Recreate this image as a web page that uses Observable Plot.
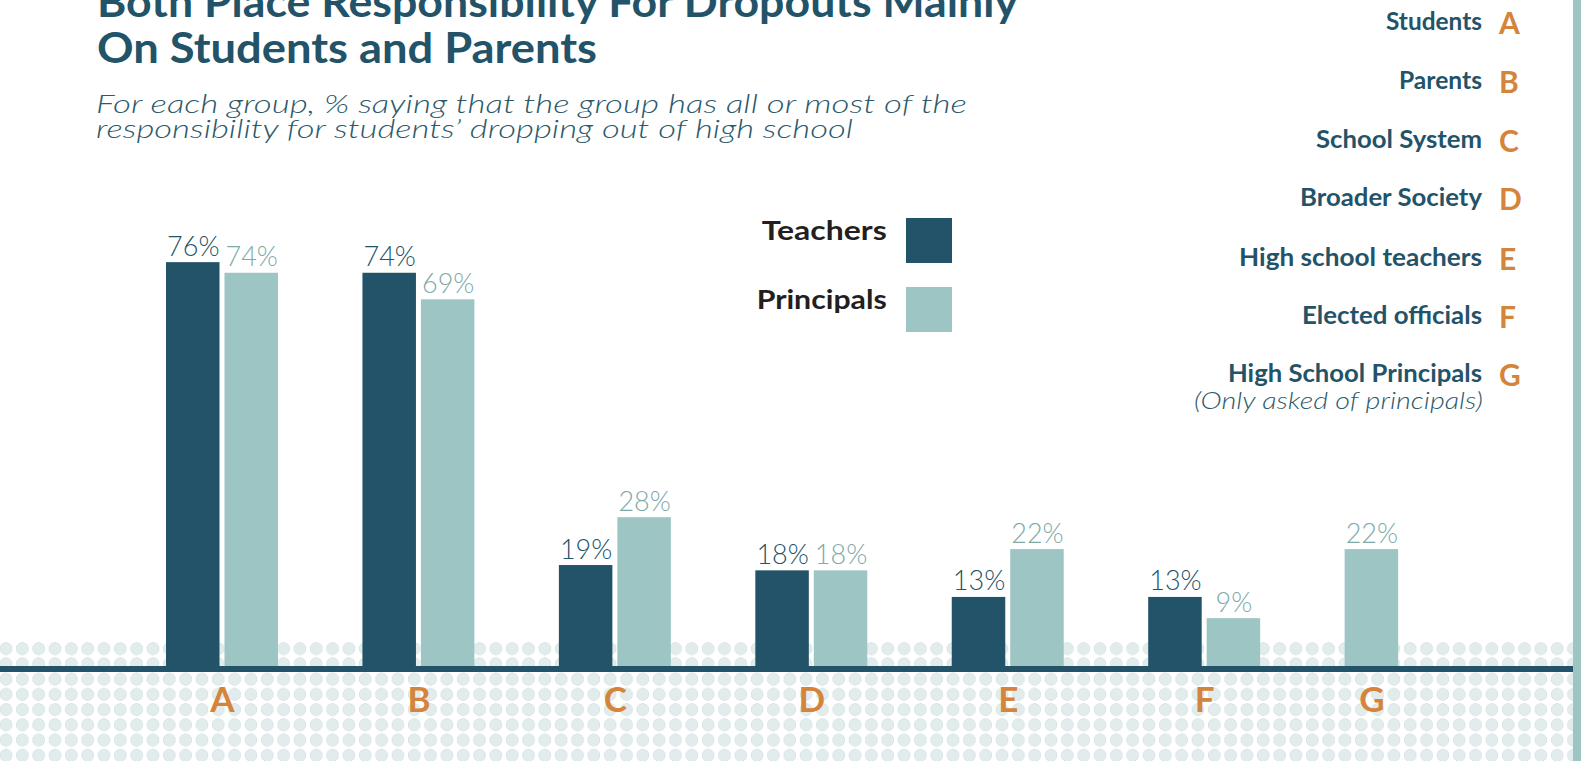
<!DOCTYPE html>
<html>
<head>
<meta charset="utf-8">
<script src="https://cdn.jsdelivr.net/npm/d3@7"></script>
<script src="https://cdn.jsdelivr.net/npm/@observablehq/plot@0.6"></script>
<style>
  html, body { margin: 0; padding: 0; background: #fff; overflow: hidden; }
  #page { position: relative; width: 1581px; height: 761px; overflow: hidden; background: #fff; }
  .layer { position: absolute; left: 0; top: 0; }
  #dots {
    position: absolute; left: 0; top: 640.7px; width: 1573px; height: 121px;
    background-image: radial-gradient(circle, #e3ecec 0, #e3ecec 5.4px, #d9e5e5 5.6px, #d9e5e5 6.2px, rgba(255,255,255,0) 6.6px);
    background-size: 16.33px 15.24px;
    background-position: -2.17px 0;
  }
  #baseline { position: absolute; left: 0; top: 666px; width: 1573px; height: 6px; background: #235368; }
  #edge { position: absolute; left: 1573px; top: 0; width: 8px; height: 761px; background: #9dc5c4; }
</style>
</head>
<body>
<div id="page">
  <div id="dots"></div>
  <div id="chart" class="layer"></div>
  <div id="baseline"></div>
  <div id="edge"></div>
  <svg id="notes" class="layer" width="1581" height="761"></svg>
</div>
<script>
// ---- data ----
const categories = ["A", "B", "C", "D", "E", "F", "G"];
const categoryNames = ["Students", "Parents", "School System", "Broader Society", "High school teachers", "Elected officials", "High School Principals"];
const series = ["Teachers", "Principals"];
const teachers = [76, 74, 19, 18, 13, 13, null];
const principals = [74, 69, 28, 18, 22, 9, 22];
const titleLines = ["Both Place Responsibility For Dropouts Mainly", "On Students and Parents"];
const subtitleLines = ["For each group, % saying that the group has all or most of the", "responsibility for students\u2019 dropping out of high school"];
const footnote = "(Only asked of principals)";

// ---- styles ----
const barColor = {Teachers: "#235368", Principals: "#9dc5c4"};
const labelColor = {Teachers: "#235368", Principals: "#7eaaaa"};
const orange = "#d4843b";
const font = "Lato, 'Open Sans', sans-serif";

// ---- table built from the arrays ----
const rows = [];
categories.forEach((c, i) => {
  let slot = 0;
  [["Teachers", teachers[i]], ["Principals", principals[i]]].forEach(([s, v]) => {
    if (v != null) rows.push({category: c, series: s, value: v, slot: slot++});
  });
});
const pairCats = categories.filter(c => rows.filter(r => r.category === c).length > 1);
const singleCats = categories.filter(c => rows.filter(r => r.category === c).length === 1);

const marks = [];
series.forEach(s => {
  const data = rows.filter(r => r.series === s);
  marks.push(Plot.barY(data, {fx: "category", x: "slot", y: "value", fill: barColor[s], inset: 0}));
  marks.push(Plot.text(data, {
    fx: "category", x: "slot", y: "value", text: d => d.value + "%",
    dy: -7, lineAnchor: "bottom", fill: labelColor[s],
    fontSize: 27, fontFamily: font, fontWeight: 300
  }));
});
marks.push(Plot.text(pairCats, {
  fx: d => d, text: d => d, frameAnchor: "bottom", lineAnchor: "top", dy: 21,
  fill: orange, fontSize: 35, fontWeight: 700, fontFamily: font
}));
marks.push(Plot.text(singleCats, {
  fx: d => d, x: () => 0, text: d => d, frameAnchor: "bottom", lineAnchor: "top", dy: 21,
  fill: orange, fontSize: 35, fontWeight: 700, fontFamily: font
}));

const chart = Plot.plot({
  width: 1581,
  height: 761,
  marginLeft: 166,
  marginRight: 124.4,
  marginTop: 134.6,
  marginBottom: 95,
  style: {background: "transparent", overflow: "visible", fontFamily: font},
  fx: {domain: categories, paddingInner: 0.43, paddingOuter: 0, round: false, axis: null, label: null},
  x: {domain: [0, 1], paddingInner: 0.085, paddingOuter: 0, round: false, axis: null, label: null},
  y: {domain: [0, 100], axis: null, label: null},
  marks
});
document.getElementById("chart").appendChild(chart);

// ---- annotations ----
const notes = d3.select("#notes");
function addText(str, x, y, o) {
  const t = notes.append("text")
    .attr("x", x).attr("y", y)
    .attr("font-family", o.family || font)
    .attr("font-size", o.size)
    .attr("font-weight", o.weight || 400)
    .attr("font-style", o.style || "normal")
    .attr("fill", o.fill)
    .attr("text-anchor", o.anchor || "start")
    .text(str);
  if (o.len) t.attr("textLength", o.len).attr("lengthAdjust", "spacingAndGlyphs");
  return t;
}
// title
addText(titleLines[0], 97, 16.7, {size: 42, weight: 700, fill: "#235368", len: 921});
addText(titleLines[1], 97, 62.7, {size: 42, weight: 700, fill: "#235368", len: 500});
// subtitle
addText(subtitleLines[0], 96, 113.3, {size: 25, weight: 300, style: "italic", fill: "#2c5a6c", len: 871});
addText(subtitleLines[1], 96, 138.3, {size: 25, weight: 300, style: "italic", fill: "#2c5a6c", len: 757});

// series legend
const legendBase = [240, 309];
const legendLen = [125, 130];
const swatchTop = [218, 287];
series.forEach((s, i) => {
  addText(s, 886.7, legendBase[i], {size: 27, weight: 700, fill: "#231f20", anchor: "end", len: legendLen[i]});
  notes.append("rect").attr("x", 906).attr("y", swatchTop[i]).attr("width", 46).attr("height", 45).attr("fill", barColor[s]);
});

// category key
const keyBase = [30, 89, 148, 206, 266, 324, 382];
const keyLen = [96, 83, 166, 182, 243, 180, 254];
categories.forEach((c, i) => {
  addText(categoryNames[i], 1482, keyBase[i], {size: 24, weight: 700, fill: "#235368", anchor: "end", len: keyLen[i]});
  addText(c, 1499, keyBase[i] + 4, {size: 30, weight: 700, fill: orange});
});
addText(footnote, 1483, 409, {size: 23, weight: 300, style: "italic", fill: "#2c5a6c", anchor: "end", len: 289});
</script>
</body>
</html>
